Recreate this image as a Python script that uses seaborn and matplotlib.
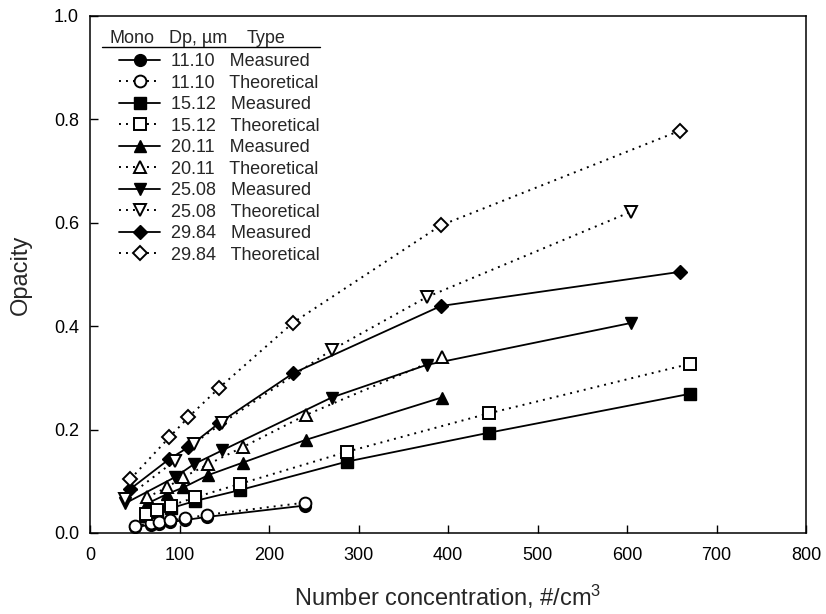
import matplotlib
matplotlib.use("Agg")
import matplotlib.pyplot as plt
import seaborn as sns
import pandas as pd

# ---- data ----
conc_11 = [50.3, 67.8, 77.4, 89.4, 106.5, 130.4, 240]
meas_11 = [0.011, 0.016, 0.018, 0.021, 0.025, 0.031, 0.053]
theo_11 = [0.0135, 0.019, 0.021, 0.0245, 0.028, 0.035, 0.0586]

conc_15 = [62.6, 74.5, 90.5, 117.7, 167.6, 287, 446, 670]
meas_15 = [0.033, 0.040, 0.048, 0.062, 0.083, 0.138, 0.194, 0.269]
theo_15 = [0.037, 0.0445, 0.053, 0.069, 0.095, 0.157, 0.2315, 0.327]

conc_20 = [64, 85.7, 104.3, 132.2, 170.6, 241, 393]
meas_20 = [0.057, 0.075, 0.088, 0.112, 0.136, 0.180, 0.262]
theo_20 = [0.069, 0.088, 0.108, 0.133, 0.166, 0.228, 0.340]

conc_25 = [39, 95, 116, 148, 270, 376, 604]
meas_25 = [0.057, 0.108, 0.133, 0.160, 0.262, 0.325, 0.406]
theo_25 = [0.066, 0.140, 0.173, 0.213, 0.354, 0.456, 0.621]

conc_30 = [45, 88.6, 110, 144.5, 227, 392, 659]
meas_30 = [0.085, 0.143, 0.166, 0.213, 0.309, 0.439, 0.505]
theo_30 = [0.104, 0.185, 0.224, 0.281, 0.407, 0.595, 0.778]

diameters = ["11.10", "15.12", "20.11", "25.08", "29.84"]
types = ["Measured", "Theoretical"]
x_ticks = [0, 100, 200, 300, 400, 500, 600, 700, 800]
y_ticks = [0.0, 0.2, 0.4, 0.6, 0.8, 1.0]

series = [
    (conc_11, meas_11, theo_11, "o", 8.5),
    (conc_15, meas_15, theo_15, "s", 8.0),
    (conc_20, meas_20, theo_20, "^", 9.0),
    (conc_25, meas_25, theo_25, "v", 9.0),
    (conc_30, meas_30, theo_30, "D", 7.0),
]

sns.set_style("ticks")
plt.rcParams["font.family"] = ["Liberation Sans", "DejaVu Sans"]
plt.rcParams["mathtext.default"] = "regular"

fig = plt.figure(figsize=(8.26, 6.14), dpi=100)
ax = fig.add_axes([0.109, 0.132, 0.8668, 0.842])

handles, labels = [], []
for (cx, my, ty, mk, ms), d in zip(series, diameters):
    for kind, yv in zip(types, (my, ty)):
        df = pd.DataFrame({"x": cx, "y": yv})
        n_before = len(ax.lines)
        if kind == "Measured":
            sns.lineplot(data=df, x="x", y="y", ax=ax, sort=False, estimator=None,
                         color="black", lw=1.3, marker=mk, markersize=ms,
                         markerfacecolor="black", markeredgecolor="black",
                         markeredgewidth=1.0, legend=False, zorder=3)
        else:
            sns.lineplot(data=df, x="x", y="y", ax=ax, sort=False, estimator=None,
                         color="black", lw=1.4, linestyle=(0, (1, 2.6)), marker=mk,
                         markersize=ms, markerfacecolor="white",
                         markeredgecolor="black", markeredgewidth=1.4,
                         legend=False, zorder=4)
        handles.append(ax.lines[n_before])
        labels.append(f"{d}   {kind}")

ax.set_xlim(0, 800)
ax.set_ylim(0, 1.0)
ax.set_xticks(x_ticks)
ax.set_yticks(y_ticks)
ax.set_xticklabels([str(v) for v in x_ticks])
ax.set_yticklabels([f"{v:.1f}" for v in y_ticks])
ax.tick_params(axis="both", direction="in", length=5.5, width=1.0,
               labelsize=13, colors="black")
ax.tick_params(axis="x", pad=10)
ax.tick_params(axis="y", pad=8)
for s in ax.spines.values():
    s.set_visible(True)
    s.set_linewidth(1.1)
    s.set_color("black")

ax.set_xlabel("Number concentration, #/cm$^3$", fontsize=17, labelpad=14)
ax.set_ylabel("Opacity", fontsize=17, labelpad=16)

# legend header
hdr_y = 0.948
ax.text(0.0265, hdr_y, "Mono", transform=ax.transAxes, fontsize=13, va="baseline")
ax.text(0.110, hdr_y, "Dp, \u00b5m", transform=ax.transAxes, fontsize=13, va="baseline")
ax.text(0.219, hdr_y, "Type", transform=ax.transAxes, fontsize=13, va="baseline")
ax.plot([0.0168, 0.321], [0.9406, 0.9406], transform=ax.transAxes,
        color="black", lw=1.0, clip_on=False)

leg = ax.legend(handles, labels, loc="upper left", bbox_to_anchor=(0.0405, 0.928),
                frameon=False, fontsize=13, borderpad=0, borderaxespad=0,
                handlelength=2.28, handletextpad=0.6, labelspacing=0.25)

fig.savefig("out.png", dpi=100)
